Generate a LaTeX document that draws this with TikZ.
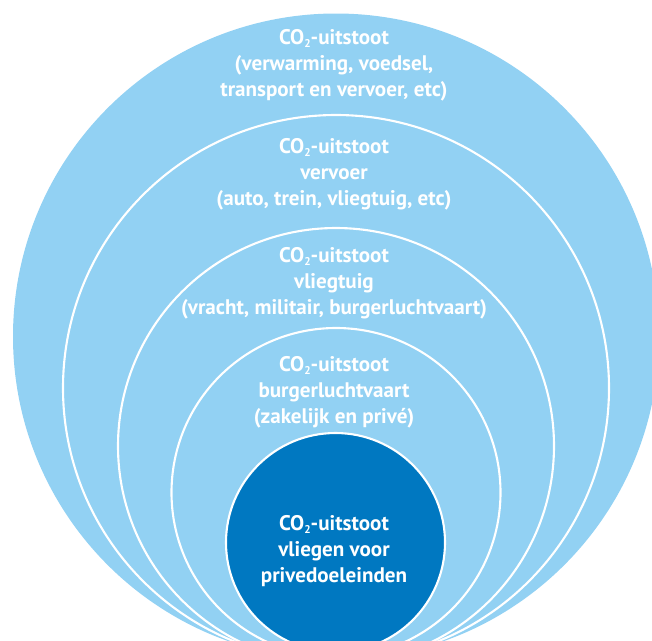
\documentclass[tikz,border=0pt]{standalone}
\usepackage{fontspec}
\setmainfont{PT Sans}
\definecolor{lichtblauw}{HTML}{92D1F3}
\definecolor{donkerblauw}{HTML}{0078C1}
\newcommand\cotwee{CO\raisebox{-0.3ex}{\fontsize{8}{8}\selectfont 2}}
\tikzset{
    schil/.style={fill=lichtblauw, draw=white, line width=1.5pt},
    kern/.style={fill=donkerblauw, draw=white, line width=1.5pt},
    tekst/.style={text=white, align=center, inner sep=0pt,
        font=\bfseries\fontsize{15}{18.6}\selectfont}
}
\begin{document}
\begin{tikzpicture}[x=0.025cm, y=-0.025cm]
    \useasboundingbox (0,0) rectangle (652,640);
    \clip (0,0) rectangle (652,640);

    % Schillen, van buiten naar binnen
    \fill[lichtblauw] (336,336.5) circle (323);
    \draw[schil] (336,388) circle (273);
    \draw[schil] (336,446) circle (218);
    \draw[schil] (336,492.5) circle (164.5);
    \draw[kern] (335.5,542.5) circle (109.5);

    % Teksten
    \node[tekst] (totaal) at (334,65.5)
        {\cotwee-uitstoot\\(verwarming, voedsel,\\transport en vervoer, etc)};
    \node[tekst] (vervoer) at (334,174)
        {\cotwee-uitstoot\\vervoer\\(auto, trein, vliegtuig, etc)};
    \node[tekst] (vliegtuig) at (334,283)
        {\cotwee-uitstoot\\vliegtuig\\(vracht, militair, burgerluchtvaart)};
    \node[tekst] (burger) at (334,392)
        {\cotwee-uitstoot\\burgerluchtvaart\\(zakelijk en privé)};
    \node[tekst] (prive) at (334,551)
        {\cotwee-uitstoot\\vliegen voor\\privedoeleinden};
\end{tikzpicture}
\end{document}
